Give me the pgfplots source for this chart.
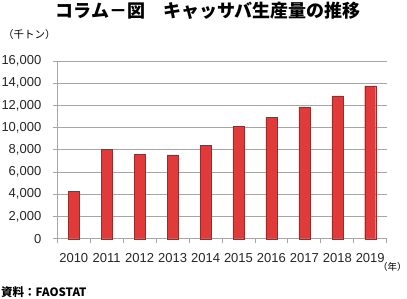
\documentclass[border=0pt]{standalone}
\usepackage{fontspec}
\setmainfont{Liberation Sans}
\newfontfamily\cjk{Noto Sans CJK JP}
\usepackage{pgfplots}
\pgfplotsset{compat=1.18}
\definecolor{barred}{RGB}{224,58,58}
\definecolor{gridgray}{RGB}{166,166,166}
\begin{document}
\begin{tikzpicture}[x=1pt,y=1pt]
\useasboundingbox (0,0) rectangle (407,298);
\fill[white] (0,0) rectangle (407,298);
\begin{axis}[at={(57.3pt,59.3pt)}, anchor=south west, scale only axis,
 width=329.4pt, height=177.7pt,
 xmin=-0.5, xmax=9.5, ymin=0, ymax=16000,
 ytick={0,2000,...,16000},
 xtick={0,...,9}, xticklabels={2010,2011,2012,2013,2014,2015,2016,2017,2018,2019},
 minor xtick={-0.5,0.5,...,9.5},
 axis x line=bottom, axis y line=left,
 axis line style={gridgray, -, line width=0.8pt},
 tick align=outside, major tick length=4pt, minor tick length=4pt,
 major x tick style={draw=none},
 minor x tick style={gridgray, line width=0.8pt},
 y tick style={gridgray, line width=0.8pt},
 ymajorgrids, grid style={gridgray, line width=0.8pt},
 tick label style={font=\fontsize{13}{13}\selectfont, text=black!85},
 yticklabel style={/pgf/number format/1000 sep={,}, xshift=-8.5pt},
 xticklabel style={yshift=-7pt},
 scaled y ticks=false,
 /pgf/number format/assume math mode=true,
 ybar, bar width=11pt,
 clip=false
]
\addplot[fill=barred, draw=barred!70!black, line width=0.3pt] coordinates {
(0,4250) (1,8050) (2,7600) (3,7550) (4,8410) (5,10120) (6,10930) (7,11860) (8,12850) (9,13750)};
\end{axis}
\node[anchor=center, font=\cjk\bfseries\fontsize{18}{18}\selectfont] at (208,287.5) {コラム－図　キャッサバ生産量の推移};
\node[anchor=west, inner sep=0, font=\cjk\fontsize{10.5}{10.5}\selectfont] at (3,263) {（千トン）};
\node[anchor=west, inner sep=0, font=\cjk\fontsize{9.5}{9.5}\selectfont] at (378,31) {（年）};
\node[anchor=west, inner sep=0, font=\cjk\bfseries\fontsize{11.5}{11.5}\selectfont] at (1,6) {資料：FAOSTAT};
\end{tikzpicture}
\end{document}
